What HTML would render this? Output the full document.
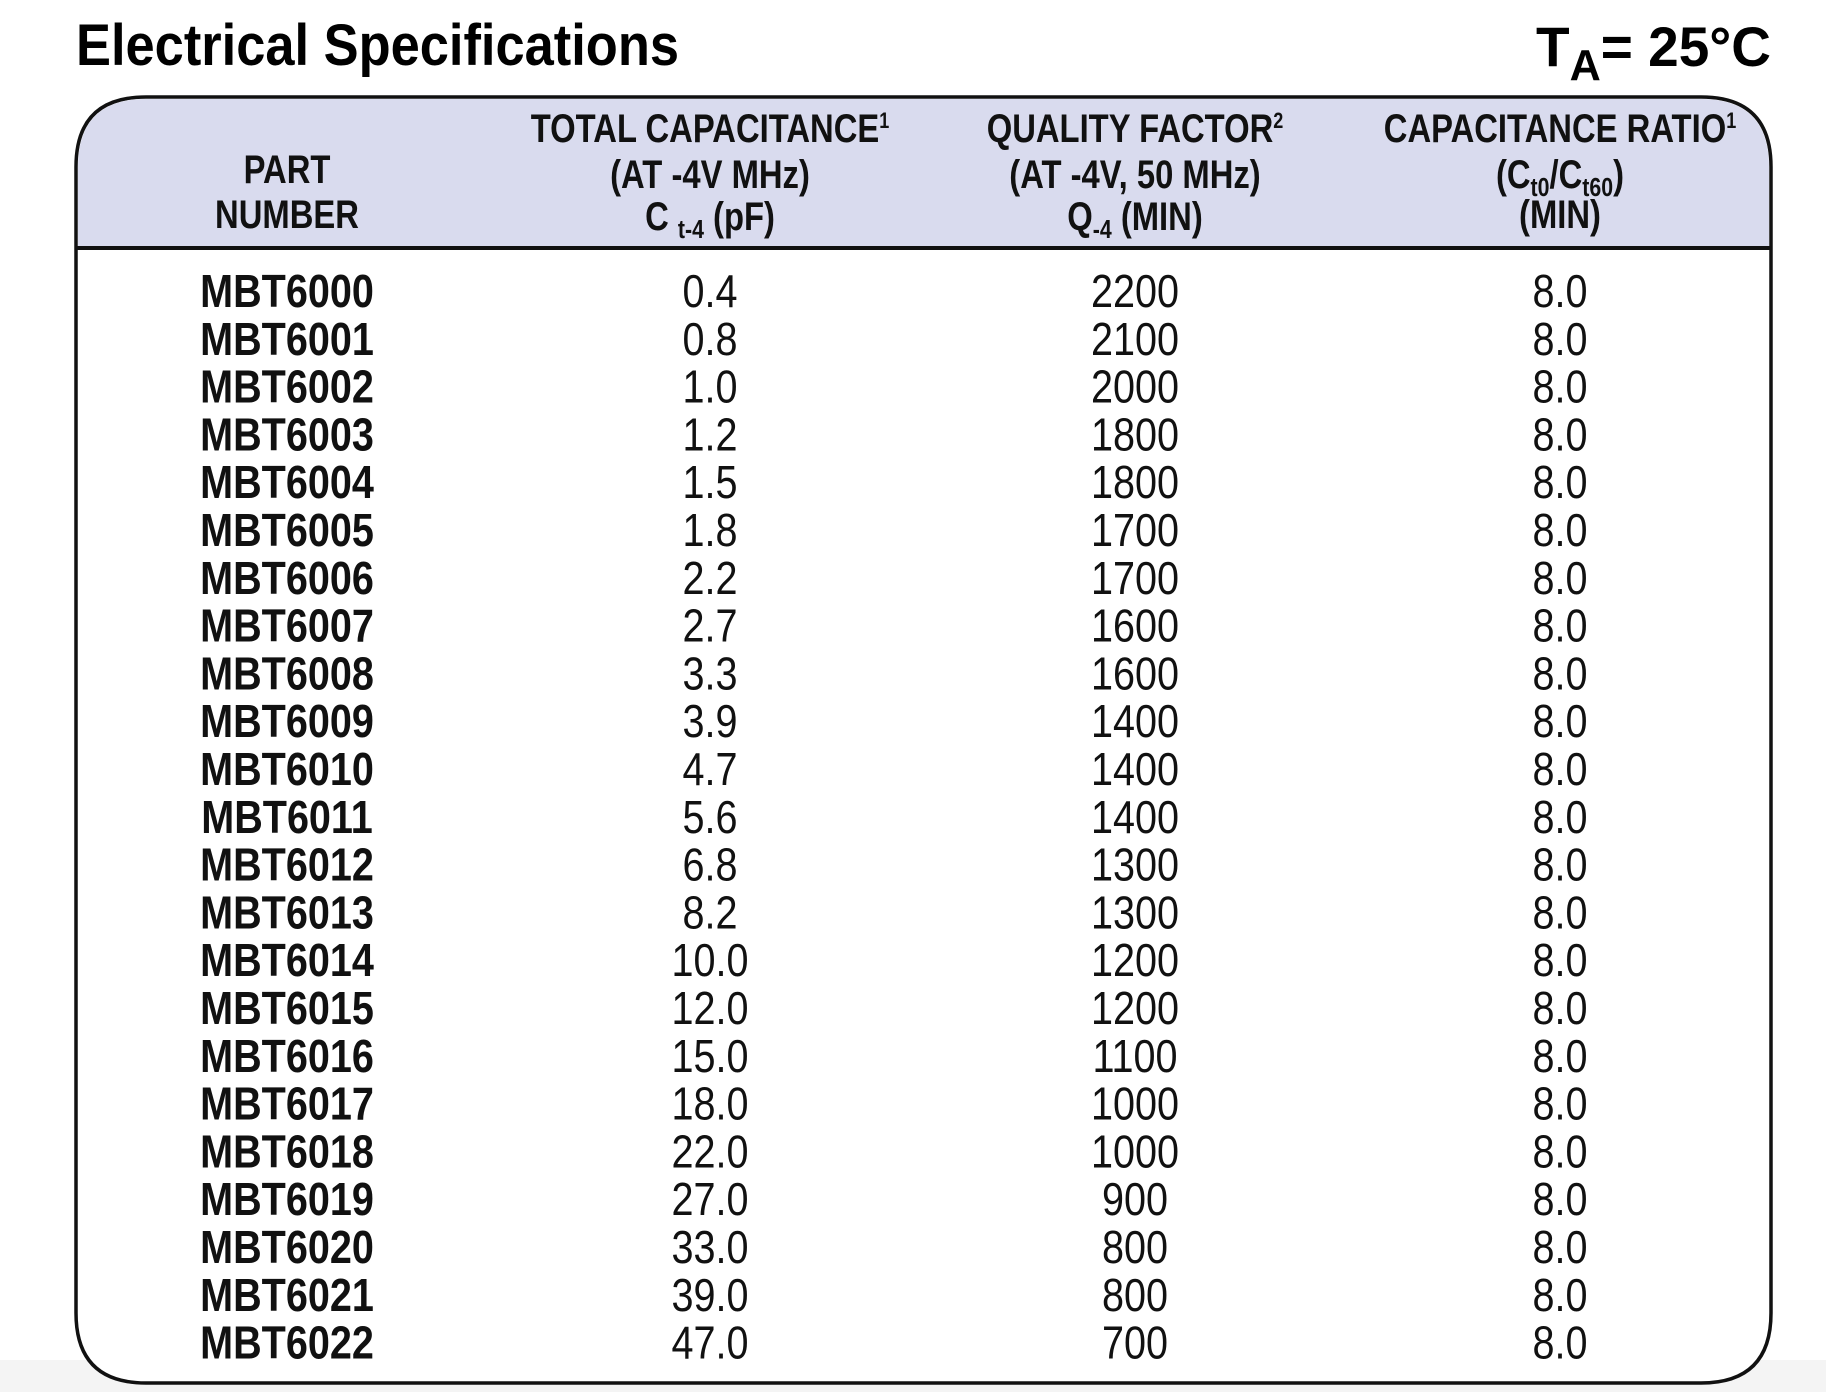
<!DOCTYPE html>
<html><head><meta charset="utf-8"><style>
html,body{margin:0;padding:0;background:#fff;}
svg{display:block;font-family:"Liberation Sans",sans-serif;}
</style></head><body>
<svg id="s" width="1826" height="1392" viewBox="0 0 1826 1392">
<rect x="0" y="1360" width="1826" height="32" fill="#f4f4f4"/>
<text x="76" y="65" font-size="58" font-weight="bold" textLength="603" lengthAdjust="spacingAndGlyphs">Electrical Specifications</text>
<g>
<text x="1536" y="66" font-size="56" font-weight="bold" textLength="235" lengthAdjust="spacingAndGlyphs">T<tspan font-size="44" dy="14">A</tspan><tspan dy="-14">= 25°C</tspan></text>
</g>
<path d="M146,97 H1701 Q1771,97 1771,167 V1313 Q1771,1383 1701,1383 H146 Q76,1383 76,1313 V167 Q76,97 146,97 Z" fill="#fff" stroke="#111" stroke-width="3.5"/>
<path d="M146,99 H1701 Q1769,99 1769,167 V247 H78 V167 Q78,99 146,99 Z" fill="#d9dbee"/>
<line x1="77" y1="248" x2="1770" y2="248" stroke="#111" stroke-width="4"/>
<g font-weight="bold" font-size="40" text-anchor="middle" fill="#111">
<g transform="translate(287,0) scale(0.82,1)">
<text x="0" y="183">PART</text><text x="0" y="228">NUMBER</text></g>
<g transform="translate(710,0) scale(0.82,1)">
<text x="0" y="142">TOTAL CAPACITANCE<tspan font-size="22" dy="-14">1</tspan></text>
<text x="0" y="188">(AT -4V MHz)</text>
<text x="0" y="230">C <tspan font-size="26" dy="8">t-4</tspan><tspan dy="-8"> (pF)</tspan></text></g>
<g transform="translate(1135,0) scale(0.82,1)">
<text x="0" y="142">QUALITY FACTOR<tspan font-size="22" dy="-14">2</tspan></text>
<text x="0" y="188">(AT -4V, 50 MHz)</text>
<text x="0" y="230">Q<tspan font-size="26" dy="8">-4</tspan><tspan dy="-8"> (MIN)</tspan></text></g>
<g transform="translate(1560,0) scale(0.82,1)">
<text x="0" y="142">CAPACITANCE RATIO<tspan font-size="22" dy="-14">1</tspan></text>
<text x="0" y="188">(C<tspan font-size="26" dy="8">t0</tspan><tspan dy="-8">/C</tspan><tspan font-size="26" dy="8">t60</tspan><tspan dy="-8">)</tspan></text>
<text x="0" y="228">(MIN)</text></g>
</g>
<g id="rows" font-size="46" text-anchor="middle" fill="#111"></g>
</svg>
<script>
const parts=["MBT6000","MBT6001","MBT6002","MBT6003","MBT6004","MBT6005","MBT6006","MBT6007","MBT6008","MBT6009","MBT6010","MBT6011","MBT6012","MBT6013","MBT6014","MBT6015","MBT6016","MBT6017","MBT6018","MBT6019","MBT6020","MBT6021","MBT6022"];
const capacitance=["0.4","0.8","1.0","1.2","1.5","1.8","2.2","2.7","3.3","3.9","4.7","5.6","6.8","8.2","10.0","12.0","15.0","18.0","22.0","27.0","33.0","39.0","47.0"];
const quality=["2200","2100","2000","1800","1800","1700","1700","1600","1600","1400","1400","1400","1300","1300","1200","1200","1100","1000","1000","900","800","800","700"];
const ratio=["8.0","8.0","8.0","8.0","8.0","8.0","8.0","8.0","8.0","8.0","8.0","8.0","8.0","8.0","8.0","8.0","8.0","8.0","8.0","8.0","8.0","8.0","8.0"];
const NS="http://www.w3.org/2000/svg";
const body=document.getElementById('rows');
const cols=[287,710,1135,1560];
function rowY(i){return 307+i*47.8;}
function cell(g,x,y,txt,bold,name){
  const t=document.createElementNS(NS,'text');
  t.setAttribute('transform','translate('+x+','+y+') scale(0.86,1)');
  if(bold) t.setAttribute('font-weight','bold');
  t.textContent=txt;
  
  
  g.appendChild(t);
}
parts.forEach((p,i)=>{
  const g=document.createElementNS(NS,'g');
  
  
  const y=rowY(i);
  cell(g,cols[0],y,p,true,'part-number');
  cell(g,cols[1],y,capacitance[i],false,'total-capacitance');
  cell(g,cols[2],y,quality[i],false,'quality-factor');
  cell(g,cols[3],y,ratio[i],false,'capacitance-ratio');
  body.appendChild(g);
});
</script>
</body></html>
